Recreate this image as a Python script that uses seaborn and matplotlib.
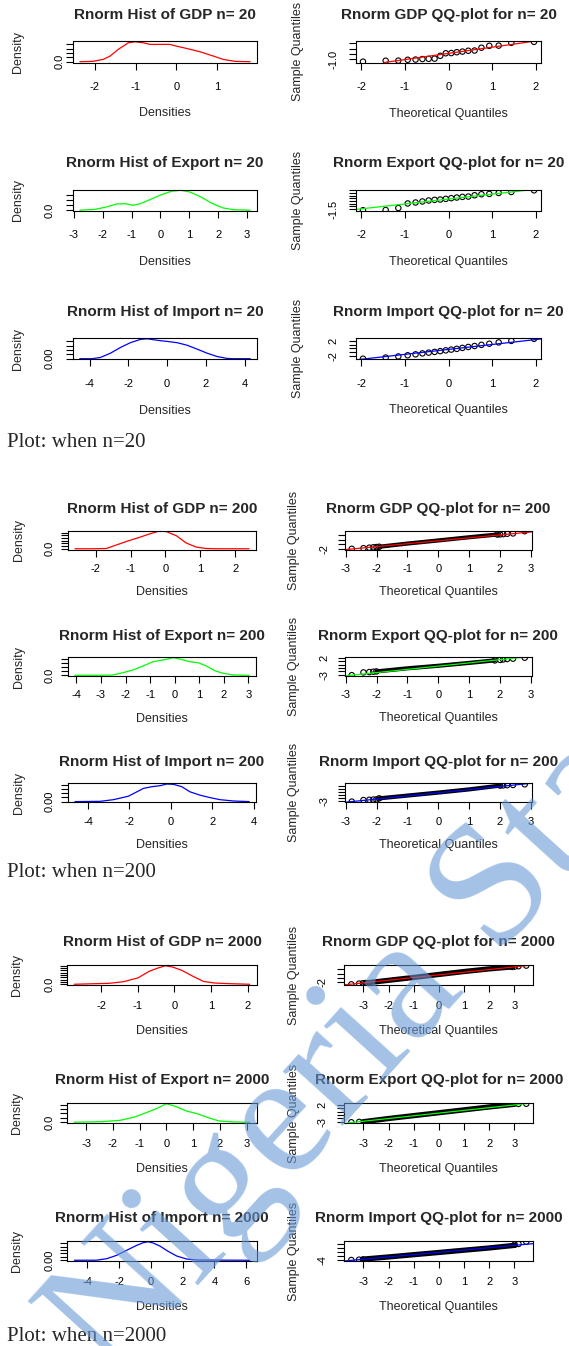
import matplotlib
matplotlib.use("Agg")
import matplotlib.pyplot as plt
import seaborn as sns

sns.set_theme(style="white")
plt.rcParams["font.family"] = ["Liberation Sans", "DejaVu Sans"]

W, H, DPI = 569, 1346, 100

# ---------------- kernel density curves, n = 20 ----------------
gdp20_x = [-2.37, -2.06, -1.80, -1.63, -1.43, -1.18, -1.02, -0.81, -0.65, -0.16, 0.00, 0.25, 0.58, 0.91, 1.15, 1.45, 1.81]
gdp20_d = [0.001, 0.008, 0.054, 0.130, 0.284, 0.437, 0.460, 0.437, 0.400, 0.400, 0.360, 0.307, 0.230, 0.130, 0.054, 0.008, 0.001]
exp20_x = [-2.79, -2.28, -1.90, -1.52, -1.20, -0.95, -0.70, -0.38, 0.00, 0.38, 0.70, 1.01, 1.39, 1.77, 2.15, 2.53, 3.11]
exp20_d = [0.003, 0.018, 0.060, 0.121, 0.126, 0.096, 0.126, 0.199, 0.289, 0.362, 0.380, 0.350, 0.259, 0.138, 0.049, 0.012, 0.003]
imp20_x = [-4.51, -3.88, -3.45, -2.93, -2.41, -1.90, -1.38, -1.03, -0.69, -0.34, 0.00, 0.52, 1.03, 1.55, 2.07, 2.58, 3.10, 3.44, 4.29]
imp20_d = [0.001, 0.001, 0.015, 0.064, 0.130, 0.185, 0.223, 0.230, 0.219, 0.208, 0.200, 0.185, 0.156, 0.111, 0.064, 0.026, 0.004, 0.001, 0.001]

# ---------------- normal QQ data, n = 20 ----------------
qq20_theo = [-1.960, -1.440, -1.150, -0.935, -0.755, -0.598, -0.454, -0.319, -0.189, -0.063,
             0.063, 0.189, 0.319, 0.454, 0.598, 0.755, 0.935, 1.150, 1.440, 1.960]
gdp20_sample = [-1.25, -1.16, -1.15, -1.07, -1.05, -1.00, -0.98, -0.96, -0.69, -0.45,
                -0.43, -0.35, -0.29, -0.21, -0.19, 0.08, 0.26, 0.28, 0.55, 0.64]
exp20_sample = [-1.70, -1.66, -1.30, -0.45, -0.27, -0.08, 0.10, 0.22, 0.28, 0.40,
                0.53, 0.65, 0.77, 0.83, 1.07, 1.26, 1.32, 1.50, 1.68, 1.99]
imp20_sample = [-2.70, -2.40, -2.10, -1.80, -1.55, -1.30, -1.10, -0.90, -0.70, -0.50,
                -0.30, -0.10, 0.15, 0.40, 0.65, 0.95, 1.25, 1.60, 2.00, 2.55]
gdp20_ref = (-0.46, 0.59)   # (intercept, slope) of the qqline
exp20_ref = (0.37, 0.91)
imp20_ref = (-0.25, 1.30)

# ---------------- kernel density curves, n = 200 ----------------
gdp200_x = [-2.59, -2.03, -1.69, -1.41, -1.07, -0.75, -0.46, -0.19, 0.02, 0.31, 0.59, 0.88, 1.16, 1.40, 2.39]
gdp200_d = [0.001, 0.003, 0.013, 0.140, 0.293, 0.420, 0.548, 0.650, 0.637, 0.484, 0.217, 0.064, 0.013, 0.003, 0.001]
exp200_x = [-4.06, -2.93, -2.52, -2.11, -1.70, -1.29, -0.88, -0.48, -0.04, 0.27, 0.61, 0.96, 1.29, 1.63, 1.97, 2.38, 3.03]
exp200_d = [0.001, 0.002, 0.008, 0.063, 0.127, 0.222, 0.325, 0.365, 0.420, 0.380, 0.325, 0.301, 0.222, 0.111, 0.048, 0.008, 0.001]
imp200_x = [-4.63, -3.41, -2.77, -2.05, -1.64, -1.32, -0.92, -0.52, -0.19, 0.13, 0.53, 0.93, 1.42, 1.90, 2.38, 3.03, 3.79]
imp200_d = [0.001, 0.004, 0.024, 0.065, 0.117, 0.158, 0.178, 0.190, 0.210, 0.206, 0.178, 0.117, 0.077, 0.048, 0.024, 0.008, 0.001]

# ---------------- normal QQ data, n = 200 (tail points + dense middle run) ----------------
gdp200_tail_theo = [-2.81, -2.43, -2.24, -2.11, -2.01, -1.92, 1.92, 2.01, 2.11, 2.24, 2.43, 2.81]
gdp200_tail_smp = [-2.03, -1.89, -1.78, -1.70, -1.64, -1.58, 1.10, 1.14, 1.19, 1.26, 1.34, 1.83]
gdp200_run_theo = [-1.92, -1.00, 0.00, 1.00, 1.92]
gdp200_run_smp = [-1.58, -0.88, -0.20, 0.50, 1.10]
gdp200_ref = (-0.27, 0.64)

exp200_tail_theo = [-2.81, -2.43, -2.24, -2.11, -2.01, 1.84, 2.01, 2.11, 2.24, 2.43, 2.81]
exp200_tail_smp = [-3.10, -2.27, -2.17, -2.07, -1.98, 1.30, 1.45, 1.58, 1.72, 1.82, 2.11]
exp200_run_theo = [-2.01, -1.00, 0.00, 1.00, 1.84]
exp200_run_smp = [-1.98, -1.05, -0.30, 0.55, 1.30]
exp200_ref = (-0.40, 0.96)

imp200_tail_theo = [-2.81, -2.43, -2.24, -2.11, -2.01, -1.92, 2.01, 2.11, 2.24, 2.43, 2.81]
imp200_tail_smp = [-3.21, -2.70, -2.62, -2.55, -2.50, -2.15, 1.98, 2.05, 2.12, 2.19, 2.41]
imp200_run_theo = [-1.92, -1.00, 0.00, 1.00, 2.01]
imp200_run_smp = [-2.15, -1.25, -0.28, 0.75, 1.98]
imp200_ref = (-0.34, 1.02)

# ---------------- kernel density curves, n = 2000 ----------------
gdp2000_x = [-2.74, -1.79, -1.39, -0.99, -0.69, -0.45, -0.25, -0.05, 0.20, 0.50, 0.79, 1.09, 1.49, 2.06]
gdp2000_d = [0.002, 0.042, 0.112, 0.281, 0.561, 0.702, 0.800, 0.744, 0.603, 0.351, 0.126, 0.056, 0.028, 0.002]
exp2000_x = [-3.44, -2.41, -1.73, -1.19, -0.79, -0.38, 0.00, 0.34, 0.75, 1.15, 1.56, 1.96, 2.51, 3.11]
exp2000_d = [0.001, 0.015, 0.045, 0.120, 0.210, 0.308, 0.420, 0.360, 0.255, 0.195, 0.105, 0.030, 0.008, 0.001]
imp2000_x = [-4.82, -3.41, -2.78, -2.16, -1.53, -0.90, -0.48, -0.17, 0.15, 0.57, 1.09, 1.62, 2.25, 2.88, 6.22]
imp2000_d = [0.001, 0.002, 0.024, 0.072, 0.145, 0.217, 0.256, 0.270, 0.251, 0.207, 0.130, 0.063, 0.019, 0.005, 0.001]

# ---------------- normal QQ data, n = 2000 ----------------
gdp2000_tail_theo = [-3.48, -3.17, -3.02, -2.92, 2.92, 3.02, 3.17, 3.48]
gdp2000_tail_smp = [-2.47, -2.30, -2.22, -2.16, 1.50, 1.58, 1.66, 1.80]
gdp2000_run_theo = [-2.92, -2.00, -1.00, 0.00, 1.00, 2.00, 2.92]
gdp2000_run_smp = [-2.16, -1.55, -0.90, -0.22, 0.45, 1.05, 1.50]
gdp2000_ref = (-0.31, 0.606)

exp2000_tail_theo = [-3.48, -3.17, 3.17, 3.48]
exp2000_tail_smp = [-3.15, -3.05, 2.25, 2.30]
exp2000_run_theo = [-3.02, -2.00, -1.00, 0.00, 1.00, 2.00, 3.02]
exp2000_run_smp = [-3.00, -2.05, -1.20, -0.35, 0.50, 1.35, 2.15]
exp2000_ref = (-0.45, 0.80)

imp2000_tail_theo = [-3.48, -3.17, -3.02, 3.02, 3.17, 3.48]
imp2000_tail_smp = [-4.08, -3.91, -3.80, 3.82, 4.16, 5.30]
imp2000_run_theo = [-3.02, -2.00, -1.00, 0.00, 1.00, 2.00, 3.02]
imp2000_run_smp = [-3.62, -2.50, -1.35, -0.21, 0.95, 2.10, 3.45]
imp2000_ref = (-0.125, 1.185)

# ---------------- axis ranges and ticks ----------------
hist_xlim = {
    (20, "GDP"): (-2.54, 1.98), (20, "Export"): (-3.03, 3.35), (20, "Import"): (-4.86, 4.64),
    (200, "GDP"): (-2.79, 2.59), (200, "Export"): (-4.34, 3.31), (200, "Import"): (-4.97, 4.12),
    (2000, "GDP"): (-2.93, 2.25), (2000, "Export"): (-3.70, 3.37), (2000, "Import"): (-5.26, 6.66),
}
hist_xticks = {
    (20, "GDP"): [-2, -1, 0, 1], (20, "Export"): [-3, -2, -1, 0, 1, 2, 3], (20, "Import"): [-4, -2, 0, 2, 4],
    (200, "GDP"): [-2, -1, 0, 1, 2], (200, "Export"): [-4, -3, -2, -1, 0, 1, 2, 3], (200, "Import"): [-4, -2, 0, 2, 4],
    (2000, "GDP"): [-2, -1, 0, 1, 2], (2000, "Export"): [-3, -2, -1, 0, 1, 2, 3], (2000, "Import"): [-4, -2, 0, 2, 4, 6],
}
hist_yticks = {
    (20, "GDP"): ([0, 0.1, 0.2, 0.3, 0.4], "0.0"), (20, "Export"): ([0, 0.1, 0.2, 0.3], "0.0"),
    (20, "Import"): ([0, 0.05, 0.10, 0.15, 0.20], "0.00"),
    (200, "GDP"): ([0, 0.1, 0.2, 0.3, 0.4, 0.5, 0.6], "0.0"), (200, "Export"): ([0, 0.1, 0.2, 0.3, 0.4], "0.0"),
    (200, "Import"): ([0, 0.05, 0.10, 0.15, 0.20], "0.00"),
    (2000, "GDP"): ([0, 0.1, 0.2, 0.3, 0.4, 0.5, 0.6, 0.7, 0.8], "0.0"), (2000, "Export"): ([0, 0.1, 0.2, 0.3, 0.4], "0.0"),
    (2000, "Import"): ([0, 0.05, 0.10, 0.15, 0.20, 0.25], "0.00"),
}
qq_xlim = {20: (-2.12, 2.12), 200: (-3.03, 3.03), 2000: (-3.76, 3.76)}
qq_xticks = {20: [-2, -1, 0, 1, 2], 200: [-3, -2, -1, 0, 1, 2, 3], 2000: [-3, -2, -1, 0, 1, 2, 3]}
qq_ylim = {
    (20, "GDP"): (-1.33, 0.72), (20, "Export"): (-1.85, 2.14), (20, "Import"): (-2.91, 2.76),
    (200, "GDP"): (-2.18, 1.98), (200, "Export"): (-3.34, 2.31), (200, "Import"): (-3.43, 2.73),
    (2000, "GDP"): (-2.62, 1.94), (2000, "Export"): (-3.37, 2.52), (2000, "Import"): (-4.58, 5.68),
}
qq_yticks = {
    (20, "GDP"): ([-1.0, -0.5, 0.0, 0.5], ["-1.0", "", "", ""]),
    (20, "Export"): ([-1.5, -1.0, -0.5, 0.0, 0.5, 1.0, 1.5, 2.0], ["-1.5", "", "", "", "", "", "", ""]),
    (20, "Import"): ([-2, -1, 0, 1, 2], ["-2", "", "", "", "2"]),
    (200, "GDP"): ([-2, -1, 0, 1], ["-2", "", "", ""]),
    (200, "Export"): ([-3, -2, -1, 0, 1, 2], ["-3", "", "", "", "", "2"]),
    (200, "Import"): ([-3, -2, -1, 0, 1, 2], ["-3", "", "", "", "", ""]),
    (2000, "GDP"): ([-2, -1, 0, 1], ["-2", "", "", ""]),
    (2000, "Export"): ([-3, -2, -1, 0, 1, 2], ["-3", "", "", "", "", "2"]),
    (2000, "Import"): ([-4, -2, 0, 2, 4], ["-4", "", "", "", ""]),
}

variables = ["GDP", "Export", "Import"]
colors = {"GDP": "#FF0000", "Export": "#00FF00", "Import": "#0000FF"}
sizes = [20, 200, 2000]

density = {
    (20, "GDP"): (gdp20_x, gdp20_d), (20, "Export"): (exp20_x, exp20_d), (20, "Import"): (imp20_x, imp20_d),
    (200, "GDP"): (gdp200_x, gdp200_d), (200, "Export"): (exp200_x, exp200_d), (200, "Import"): (imp200_x, imp200_d),
    (2000, "GDP"): (gdp2000_x, gdp2000_d), (2000, "Export"): (exp2000_x, exp2000_d), (2000, "Import"): (imp2000_x, imp2000_d),
}
qq_points = {
    (20, "GDP"): (qq20_theo, gdp20_sample, None, None, gdp20_ref),
    (20, "Export"): (qq20_theo, exp20_sample, None, None, exp20_ref),
    (20, "Import"): (qq20_theo, imp20_sample, None, None, imp20_ref),
    (200, "GDP"): (gdp200_tail_theo, gdp200_tail_smp, gdp200_run_theo, gdp200_run_smp, gdp200_ref),
    (200, "Export"): (exp200_tail_theo, exp200_tail_smp, exp200_run_theo, exp200_run_smp, exp200_ref),
    (200, "Import"): (imp200_tail_theo, imp200_tail_smp, imp200_run_theo, imp200_run_smp, imp200_ref),
    (2000, "GDP"): (gdp2000_tail_theo, gdp2000_tail_smp, gdp2000_run_theo, gdp2000_run_smp, gdp2000_ref),
    (2000, "Export"): (exp2000_tail_theo, exp2000_tail_smp, exp2000_run_theo, exp2000_run_smp, exp2000_ref),
    (2000, "Import"): (imp2000_tail_theo, imp2000_tail_smp, imp2000_run_theo, imp2000_run_smp, imp2000_ref),
}

# ---------------- page geometry (pixels) ----------------
layout = {
    20: dict(hist=(73, 257), qq=(356, 541), tops=(41, 189.5, 338), h=21.5, title=26, tick=25, xlab=51,
             ylab_h=55, ylab_q=58, ytick_h=24, ytick_q=23, caption=447, run_lw=0),
    200: dict(hist=(68, 256), qq=(345, 531.5), tops=(530.5, 657, 783.3), h=19, title=21.2, tick=20, xlab=42.5,
              ylab_h=49.3, ylab_q=50.7, ytick_h=19, ytick_q=21, caption=877, run_lw=3.0),
    2000: dict(hist=(67.3, 256.7), qq=(344.3, 533.3), tops=(965, 1103, 1241), h=20, title=23.3, tick=21.7, xlab=45.7,
               ylab_h=49.8, ylab_q=50, ytick_h=18, ytick_q=22.6, caption=1341, run_lw=3.8),
}
# the first density panel sets its "0.0" label closer to the axis
ytick_h_override = {(20, "GDP"): 14}

TICK_PX = 7.0
PT = 72.0 / DPI

fig = plt.figure(figsize=(W / DPI, H / DPI), dpi=DPI)
fig.patch.set_facecolor("white")


def fx(px):
    return px / W


def fy(py):
    return 1 - py / H


def make_axes(left, right, top, height):
    return fig.add_axes([fx(left), fy(top + height), (right - left) / W, height / H])


def r_style(ax, xticks, yticks, ylabels, xcenter, ycenter):
    for s in ax.spines.values():
        s.set_visible(True)
        s.set_color("black")
        s.set_linewidth(0.8)
    ax.set_facecolor("white")
    ax.grid(False)
    ax.set_xticks(xticks)
    ax.set_xticklabels([f"{t:g}" for t in xticks])
    ax.set_yticks(yticks)
    ax.set_yticklabels(ylabels, rotation=90, va="center")
    ax.tick_params(axis="both", direction="out", length=TICK_PX * PT, width=0.8, colors="black",
                   labelsize=8, bottom=True, left=True, top=False, right=False)
    ax.tick_params(axis="x", pad=(xcenter - TICK_PX - 5.5) * PT)
    ax.tick_params(axis="y", pad=max(ycenter - TICK_PX - 5.5, 0.5) * PT)
    ax.set_xlabel("")
    ax.set_ylabel("")


for n in sizes:
    g = layout[n]
    for row, var in enumerate(variables):
        top = g["tops"][row]
        bottom = top + g["h"]
        col = colors[var]

        # ---- density panel ----
        hl, hr = g["hist"]
        ax = make_axes(hl, hr, top, g["h"])
        xs, ds = density[(n, var)]
        sns.lineplot(x=xs, y=ds, ax=ax, color=col, linewidth=0.9, legend=False)
        ax.set_xlim(*hist_xlim[(n, var)])
        pad = 0.04 * (max(ds) - min(ds))
        ax.set_ylim(min(ds) - pad, max(ds) + pad)
        yt, lab0 = hist_yticks[(n, var)]
        r_style(ax, hist_xticks[(n, var)], yt, [lab0] + [""] * (len(yt) - 1), g["tick"],
                ytick_h_override.get((n, var), g["ytick_h"]))
        fig.text(fx((hl + hr) / 2), fy(top - g["title"]), f"Rnorm Hist of {var} n= {n}",
                 ha="center", va="center", fontsize=11, fontweight="bold")
        fig.text(fx((hl + hr) / 2), fy(bottom + g["xlab"]), "Densities", ha="center", va="center", fontsize=9)
        fig.text(fx(hl - g["ylab_h"]), fy(top + g["h"] / 2), "Density", ha="center", va="center",
                 rotation=90, fontsize=9)

        # ---- normal QQ panel ----
        ql, qr = g["qq"]
        ax = make_axes(ql, qr, top, g["h"])
        ptx, pty, runx, runy, (a, b) = qq_points[(n, var)]
        if runx is not None:
            sns.lineplot(x=runx, y=runy, ax=ax, color="black", linewidth=g["run_lw"], legend=False)
        sns.scatterplot(x=ptx, y=pty, ax=ax, marker="o", s=15, legend=False)
        pts = ax.collections[-1]
        pts.set_facecolor("none")
        pts.set_edgecolor("black")
        pts.set_linewidth(0.8)
        ax.set_xlim(*qq_xlim[n])
        ax.set_ylim(*qq_ylim[(n, var)])
        ax.axline((0, a), slope=b, color=col, linewidth=0.9)
        yt, yl = qq_yticks[(n, var)]
        r_style(ax, qq_xticks[n], yt, yl, g["tick"], g["ytick_q"])
        fig.text(fx((ql + qr) / 2), fy(top - g["title"]), f"Rnorm {var} QQ-plot for n= {n}",
                 ha="center", va="center", fontsize=11, fontweight="bold")
        fig.text(fx((ql + qr) / 2), fy(bottom + g["xlab"]), "Theoretical Quantiles", ha="center",
                 va="center", fontsize=9)
        fig.text(fx(ql - g["ylab_q"]), fy(top + g["h"] / 2), "Sample Quantiles", ha="center", va="center",
                 rotation=90, fontsize=9)

    fig.text(fx(7), fy(g["caption"]), f"Plot: when n={n}", ha="left", va="baseline",
             fontsize=15, family=["Liberation Serif", "DejaVu Serif"])

# light diagonal watermark across the lower half of the page
fig.text(fx(110), fy(1382), "Nigeria Stat", rotation=47.8, rotation_mode="anchor",
         ha="left", va="baseline", fontsize=127, family=["Liberation Serif", "DejaVu Serif"],
         color="#6799D5", alpha=0.6, zorder=10)

fig.savefig("out.png", dpi=DPI, facecolor="white")
